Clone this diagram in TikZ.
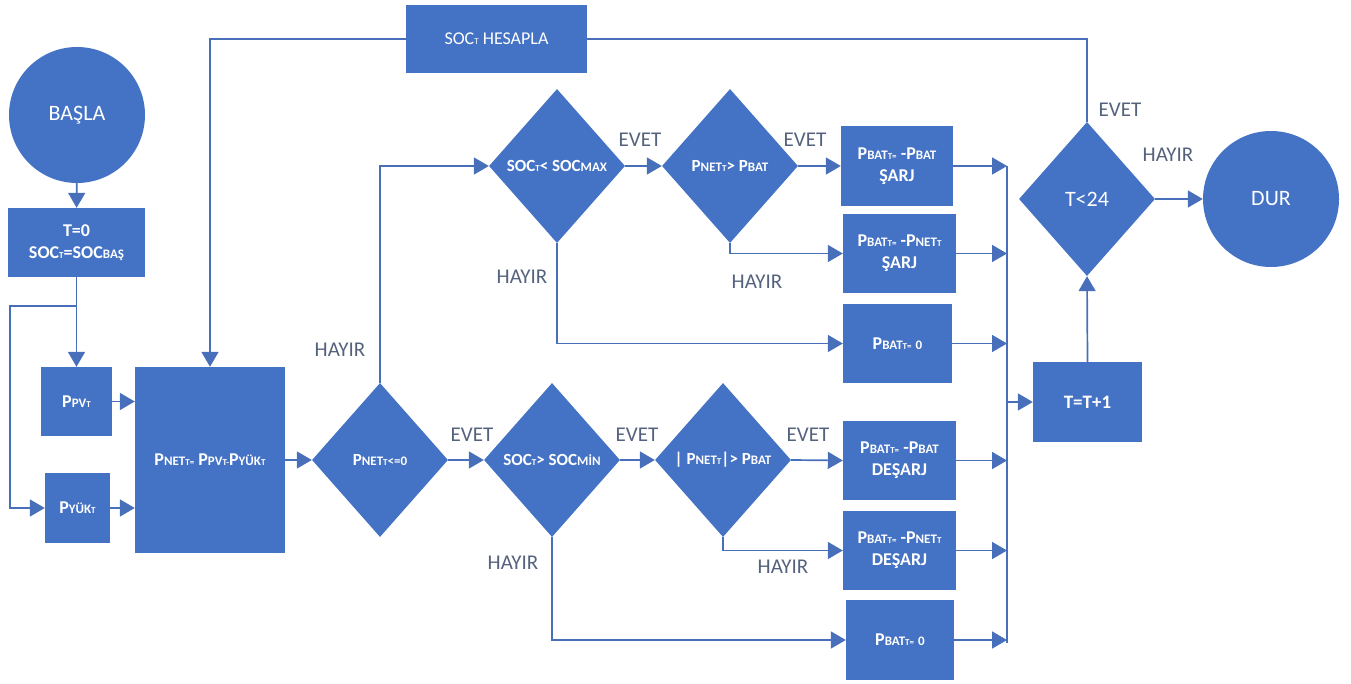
\documentclass[tikz,border=0pt]{standalone}
\usepackage{fontspec}
\setmainfont{Carlito}
\usetikzlibrary{arrows.meta,shapes.geometric}
\definecolor{fc}{RGB}{68,114,196}
\definecolor{lc}{RGB}{72,112,186}
\definecolor{tc}{RGB}{84,98,125}
\newcommand\Sm[1]{{\fontsize{13}{13}\selectfont #1}}
\newcommand\Ti[1]{{\fontsize{9}{9}\selectfont #1}}
\tikzset{
  box/.style={rectangle, fill=fc, draw=none, text=white, font=\fontsize{18}{22}\selectfont\bfseries, align=center, inner sep=0pt},
  dia/.style={diamond, fill=fc, draw=none, minimum width=136pt, minimum height=154pt, inner sep=0pt},
  dtext/.style={text=white, font=\fontsize{17}{19}\selectfont\bfseries, inner sep=0pt},
  rnd/.style={circle, fill=fc, draw=none, text=white, minimum size=136pt, inner sep=0pt, font=\fontsize{22}{24}\selectfont},
  ln/.style={draw=lc, line width=1.7pt},
  arr/.style={draw=lc, line width=1.7pt, -{Triangle[length=15pt,width=17pt]}},
  lab/.style={text=tc, font=\fontsize{21}{24}\selectfont, inner sep=0pt}
}
\begin{document}
\begin{tikzpicture}[x=1pt,y=-1pt]
\useasboundingbox (0,0) rectangle (1351,684);
% nodes
\node[rnd] (basla) at (77,115) {BAŞLA};
\node[box, minimum width=137pt, minimum height=69pt] (t0) at (76.5,242.5) {T=0\\SOC\Ti{T}=SOC\Sm{BAŞ}};
\node[box, minimum width=71pt, minimum height=69pt] (ppv) at (76.5,401.5) {P\Sm{PV}\Ti{T}};
\node[box, minimum width=65pt, minimum height=70pt] (pyuk) at (77.5,508) {P\Sm{YÜK}\Ti{T}};
\node[box, minimum width=150pt, minimum height=186pt] (pnet) at (210,460) {P\Sm{NET}\Ti{T=} P\Sm{PV}\Ti{T-}P\Sm{YÜK}\Ti{T}};
\node[box, minimum width=181pt, minimum height=68pt, font=\fontsize{18}{21}\selectfont] (soc) at (496.5,39) {SOC\Ti{T} HESAPLA};

\node[dia, label={[dtext]center:P\Sm{NET}\Ti{T}\Sm{<=0}}] (d0) at (380,460) {};
\node[dia, label={[dtext]center:SOC\Ti{T}< SOC\Sm{MAX}}] (d1) at (557,166) {};
\node[dia, label={[dtext]center:P\Sm{NET}\Ti{T}> P\Sm{BAT}}] (d3) at (730,166) {};
\node[dia, label={[dtext]center:SOC\Ti{T}> SOC\Sm{MİN}}] (d2) at (552,460) {};
\node[dia, label={[dtext]center:| P\Sm{NET}\Ti{T}|> P\Sm{BAT}}] (d4) at (723,460) {};

\node[box, minimum width=112pt, minimum height=80pt] (b1) at (897,166) {P\Sm{BAT}\Ti{T=} -P\Sm{BAT}\\ŞARJ};
\node[box, minimum width=113pt, minimum height=79pt] (b2) at (899.5,253.5) {P\Sm{BAT}\Ti{T=} -P\Sm{NET}\Ti{T}\\ŞARJ};
\node[box, minimum width=109pt, minimum height=79pt] (b3) at (897.5,343.5) {P\Sm{BAT}\Ti{T=} \Sm{0}};
\node[box, minimum width=113pt, minimum height=79pt] (b4) at (899.5,460.5) {P\Sm{BAT}\Ti{T=} -P\Sm{BAT}\\DEŞARJ};
\node[box, minimum width=113pt, minimum height=79pt] (b5) at (899.5,550.5) {P\Sm{BAT}\Ti{T=} -P\Sm{NET}\Ti{T}\\DEŞARJ};
\node[box, minimum width=108pt, minimum height=80pt] (b6) at (900,640) {P\Sm{BAT}\Ti{T=} \Sm{0}};

\node[box, minimum width=109pt, minimum height=80pt, font=\fontsize{19}{22}\selectfont\bfseries] (tinc) at (1087.5,402) {T=T+1};
\node[dia, minimum width=136pt, minimum height=154pt, label={[text=white, font=\fontsize{22}{24}\selectfont]center:T<24}] (d5) at (1087,199) {};
\node[rnd, minimum size=136pt] (dur) at (1271,199) {DUR};

% helper coordinates
\coordinate (j1) at (77,306);
\coordinate (cl) at (10,508);
\coordinate (ct) at (1007,166);
\coordinate (cb) at (1007,643);

% connectors
\draw[arr] (basla) -- (t0);
\draw[arr] (t0.south) -- (ppv.north);
\draw[arr] (j1) -| (cl) -- (pyuk.west);
\draw[arr] (ppv.east) -- (ppv.east -| pnet.west);
\draw[arr] (pyuk.east) -- (pyuk.east -| pnet.west);
\draw[arr] (pnet.east) -- (d0.west);
\draw[arr] (d0.north) |- (d1.west);
\draw[arr] (d0.east) -- (d2.west);
\draw[arr] (d1.east) -- (d3.west);
\draw[arr] (d3.east) -- (b1.west);
\draw[arr] (d3.south) |- (b2.west);
\draw[arr] (d1.south) |- (b3.west);
\draw[arr] (d2.east) -- (d4.west);
\draw[arr] (d4.east) -- (b4.west);
\draw[arr] (d4.south) |- (b5.west);
\draw[arr] (d2.south) |- (b6.west);

\draw[ln] (ct) -- (cb);
\draw[arr] (b1.east) -- (b1.east -| ct);
\draw[arr] (b2.east) -- (b2.east -| ct);
\draw[arr] (b3.east) -- (b3.east -| ct);
\draw[arr] (b4.east) -- (b4.east -| ct);
\draw[arr] (b5.east) -- (b5.east -| ct);
\draw[arr] (b6.east) -- (b6.east -| ct);
\draw[arr] (tinc.west -| ct) -- (tinc.west);
\draw[arr] (tinc.north) -- (d5.south);
\draw[arr] (d5.east) -- (dur.west);
\draw[ln] (d5.north) |- (soc.east);
\draw[arr] (soc.west) -| (pnet.north);

% labels
\node[lab] (h1) at (340,350) {HAYIR};
\node[lab] (e1) at (472,435) {EVET};
\node[lab] (e2) at (640,140) {EVET};
\node[lab] (e3) at (805,140) {EVET};
\node[lab] (h2) at (522,277) {HAYIR};
\node[lab] (h3) at (757,282) {HAYIR};
\node[lab] (e4) at (637,435) {EVET};
\node[lab] (e5) at (808,435) {EVET};
\node[lab] (h4) at (513,563) {HAYIR};
\node[lab] (h5) at (783,567) {HAYIR};
\node[lab] (e6) at (1120,110) {EVET};
\node[lab] (h6) at (1168,155) {HAYIR};
\end{tikzpicture}
\end{document}
